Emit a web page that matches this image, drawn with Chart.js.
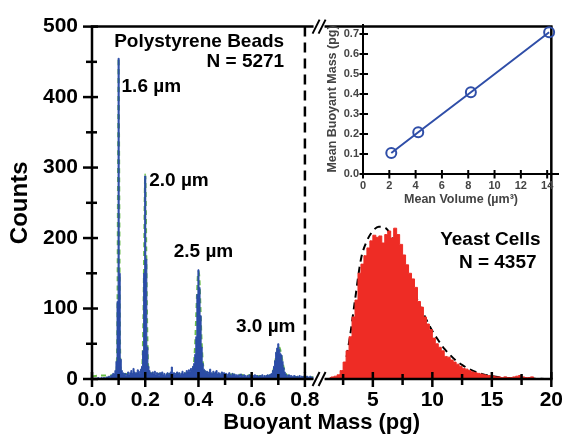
<!DOCTYPE html>
<html><head><meta charset="utf-8">
<script src="https://cdn.jsdelivr.net/npm/chart.js@4.4.1/dist/chart.umd.min.js"></script>
<style>
html,body{margin:0;padding:0;background:#fff;}
#wrap{position:relative;width:572px;height:439px;overflow:hidden;background:#fff;}
#main{position:absolute;left:0;top:0;}
#inset{position:absolute;left:300px;top:0;}
</style></head><body>
<div id="wrap"><canvas id="main" width="572" height="439"></canvas><canvas id="inset" width="272" height="215"></canvas></div>
<script>
const FONT = '"Liberation Sans", Arial, Helvetica, sans-serif';

// ---- Polystyrene beads: histogram (bin width 0.004 pg, first bin centred at 0) ----
const beadBinStart = 0;
const beadBinWidth = 0.004;
const beadCounts = [
  0,1,0,1,1,0,2,1,1,2,1,2,2,1,3,
  3,4,2,5,6,8,7,
  12,25,110,455,150,28,12,
  9,6,8,5,7,10,6,9,12,8,15,10,7,9,13,11,8,14,
  18,40,150,288,170,45,18,
  12,9,8,10,7,11,6,9,8,5, 9,7,10,6,8,5,7,9,6,8, 10,17,7,9,6,8,10,7,9,6, 8,11,7,9,8,12,10,13,
  11,15,14,18,22,35,60,120,155,130,90,45,22,14,
  12,9,11,8,10,14,9,7,11,8, 10,12,7,9,8,6,10,7,9,6, 8,5,7,9,6,5,8,6,7,5,6,
  5,6,4,7,5,4,6,5,3,5, 4,6,5,3,4,5,6,4,5,3, 4,5,4,6,3,5,4,5,6,
  5,6,7,8,12,18,26,38,44,50,42,36,34,25,16,10,7,
  5,4,6,3,5,4,3,5,4,3, 4,3,5,2,4,3,4,2,3,4, 3,2,4,3,2,3
];
// bead fit (green dashed)
const beadFitMass = [0,0.04,0.07,0.085, 0.091,0.094,0.096,0.098,0.100,0.102,0.104,0.106,0.109,
  0.115,0.15,0.18, 0.186,0.190,0.193,0.196,0.198,0.200,0.202,0.204,0.207,0.210,0.214,
  0.22,0.30,0.36, 0.375,0.382,0.387,0.391,0.395,0.398,0.401,0.404,0.407,0.411,0.416,0.423,
  0.44,0.55,0.65, 0.672,0.682,0.689,0.695,0.700,0.705,0.711,0.717,0.724,0.735, 0.76,0.83];
const beadFitCounts = [4,5,5,6, 10,35,120,310,455,310,120,35,10,
  7,7,8, 10,28,85,180,255,290,255,180,85,28,10,
  8,7,8, 10,20,45,85,125,148,152,140,108,62,26,11,
  8,6,4, 6,13,26,38,46,44,35,22,11,5, 3,3];

// ---- Yeast cells: histogram (bin width 0.25 pg, first bin centred at 1.375) ----
const yeastBinStart = 1.375;
const yeastBinWidth = 0.25;
const yeastCounts = [
  2,3,4,6,12,24,40,60,88,112,
  150,163,175,186,196,204,201,203,193,205,
  210,200,214,205,191,176,162,150,142,130,
  110,102,88,78,70,58,50,45,40,32,
  31,27,24,21,18,15,14,12,10,9,
  8,7,6,5,5,4,3,3,2,3,
  2,2,3,4,5,3,2,2,3,1
];
// yeast fit (black dashed)
const yeastFitMass = [2.0,2.5,3.0,3.5,4.0,4.5,5.0,5.5,6.0,6.5,7.0,7.5,8.0,8.5,9.0,9.5,10.0,10.5,11.0,11.5,12.0,12.5,13.0,14.0,15.0,16.0,17.0,18.0,20.0];
const yeastFitCounts = [2,10,52,112,170,196,210,216,215,205,186,165,143,122,102,84,68,55,43,34,26,20,15,8,4,2,1,0.5,0];

// ---- Inset: calibration ----
const insetVolume = [2.15, 4.2, 8.2, 14.15];
const insetMass = [0.105, 0.209, 0.409, 0.709];

// ---- tick labels ----
const countTickLabels = ['0','100','200','300','400','500'];
const beadMassTickLabels = ['0.0','0.2','0.4','0.6','0.8'];
const yeastMassTickLabels = ['5','10','15','20'];
const insetVolumeTickLabels = ['0','2','4','6','8','10','12','14'];
const insetMassTickLabels = ['0.0','0.1','0.2','0.3','0.4','0.5','0.6','0.7'];

const separatorMass = 0.8;
const xTitle = 'Buoyant Mass (pg)';
const annotations = [
  {text:'Polystyrene Beads', axis:'x1', x:0.722, y:471, align:'right'},
  {text:'N = 5271', axis:'x1', x:0.722, y:442, align:'right'},
  {text:'1.6 \u00b5m', axis:'x1', x:0.111, y:407, align:'left'},
  {text:'2.0 \u00b5m', axis:'x1', x:0.215, y:274, align:'left'},
  {text:'2.5 \u00b5m', axis:'x1', x:0.307, y:173, align:'left'},
  {text:'3.0 \u00b5m', axis:'x1', x:0.541, y:67, align:'left'},
  {text:'Yeast Cells', axis:'x2', x:19.09, y:190, align:'right'},
  {text:'N = 4357', axis:'x2', x:18.76, y:158, align:'right'}
];

const BLUE = '#2b4ca6', GREEN = '#6cbf4a', RED = '#ee2c25', IBLUE = '#2f4ea8';

const beadHist = beadCounts.map((c,i) => ({x: beadBinStart + i*beadBinWidth, y: c}));
const beadFit = beadFitMass.map((m,i) => ({x: m, y: beadFitCounts[i]}));
const yeastHist = yeastCounts.map((c,i) => ({x: yeastBinStart + i*yeastBinWidth, y: c}));
const yeastFit = yeastFitMass.map((m,i) => ({x: m, y: yeastFitCounts[i]}));

// x-axis ranges and their share of the width (broken axis)
const x1Range = [0, 0.855], x2Range = [0.52, 20];
const x1PxPerUnit = 270, x2PxPerUnit = 12.07;

const tickFont = {size:21, weight:'bold', family:FONT};
const noGrid = {display:false, drawTicks:false};

const mainDecor = {
  id:'mainDecor',
  afterDatasetsDraw(chart){
    const {ctx, chartArea:ca} = chart;
    const {x1, x2, y} = chart.scales;
    const seg = (a,b,c,d) => { ctx.beginPath(); ctx.moveTo(a,b); ctx.lineTo(c,d); ctx.stroke(); };
    ctx.save();
    ctx.strokeStyle = '#000';
    ctx.lineWidth = 2.5;
    // dashed separator
    const xs = x1.getPixelForValue(separatorMass);
    ctx.setLineDash([10,6]);
    seg(xs, ca.top, xs, ca.bottom);
    ctx.setLineDash([]);
    const br = x1.right;
    [ca.bottom, ca.top].forEach(yy => {
      ctx.lineWidth = 2.5;
      seg(ca.left - 1.25, yy, br - 6, yy);
      seg(br + 5, yy, ca.right + 1.25, yy);
      ctx.lineWidth = 2;
      seg(br - 7, yy + 7, br, yy - 7);
      seg(br - 1, yy + 7, br + 6, yy - 7);
    });
    ctx.lineWidth = 2.5;
    seg(ca.left, ca.top, ca.left, ca.bottom);
    seg(ca.right, ca.top, ca.right, ca.bottom);
    // ticks crossing the axes
    [x1, x2].forEach(sc => sc.ticks.forEach(t => {
      const px = sc.getPixelForValue(t.value);
      const major = t.label !== '';
      seg(px, ca.bottom - (major ? 7 : 5), px, ca.bottom + (major ? 8 : 6));
    }));
    y.ticks.forEach(t => {
      const py = y.getPixelForValue(t.value);
      const major = t.label !== '';
      seg(ca.left - (major ? 9 : 6), py, ca.left + (major ? 6 : 5), py);
    });
    // annotations
    ctx.fillStyle = '#000';
    ctx.textBaseline = 'alphabetic';
    annotations.forEach(a => {
      ctx.font = 'bold 19px ' + FONT;
      ctx.textAlign = a.align;
      ctx.fillText(a.text, chart.scales[a.axis].getPixelForValue(a.x), y.getPixelForValue(a.y));
    });
    ctx.font = 'bold 22px ' + FONT;
    ctx.textAlign = 'center';
    ctx.fillText(xTitle, (ca.left + ca.right) / 2, ca.bottom + 50);
    ctx.restore();
  }
};

new Chart(document.getElementById('main'), {
  type:'line',
  data:{datasets:[
    {data:beadHist, xAxisID:'x1', yAxisID:'y', stepped:'middle', fill:'origin', backgroundColor:BLUE, borderColor:BLUE, borderWidth:1, pointRadius:0},
    {data:beadFit, xAxisID:'x1', yAxisID:'y', borderColor:GREEN, borderWidth:2, borderDash:[5,4], pointRadius:0, cubicInterpolationMode:'monotone', fill:false},
    {data:yeastHist, xAxisID:'x2', yAxisID:'y', stepped:'middle', fill:'origin', backgroundColor:RED, borderColor:RED, borderWidth:1, pointRadius:0},
    {data:yeastFit, xAxisID:'x2', yAxisID:'y', borderColor:'#000', borderWidth:2, borderDash:[7,5], pointRadius:0, cubicInterpolationMode:'monotone', fill:false}
  ]},
  options:{
    responsive:false, animation:false, devicePixelRatio:1, events:[],
    layout:{padding:{top:24, right:14, bottom:20, left:0}},
    plugins:{legend:{display:false}, tooltip:{enabled:false}},
    scales:{
      x1:{type:'linear', axis:'x', position:'bottom', stack:'mass',
        stackWeight:(x1Range[1]-x1Range[0])*x1PxPerUnit,
        min:x1Range[0], max:x1Range[1], offset:false,
        grid:noGrid, border:{display:false},
        ticks:{stepSize:0.1, includeBounds:false, autoSkip:false, maxRotation:0, padding:9, color:'#000', font:tickFont,
          callback:v => { const s = Number(v).toFixed(1); return beadMassTickLabels.includes(s) ? s : ''; }},
        afterFit:s => { s.height = 40; }},
      x2:{type:'linear', axis:'x', position:'bottom', stack:'mass',
        stackWeight:(x2Range[1]-x2Range[0])*x2PxPerUnit,
        min:x2Range[0], max:x2Range[1], offset:false,
        grid:noGrid, border:{display:false},
        ticks:{stepSize:2.5, includeBounds:false, autoSkip:false, maxRotation:0, padding:9, color:'#000', font:tickFont,
          callback:v => { const s = String(v); return yeastMassTickLabels.includes(s) ? s : ''; }},
        afterFit:s => { s.height = 40; }},
      y:{type:'linear', position:'left', min:0, max:500,
        grid:noGrid, border:{display:false},
        ticks:{stepSize:50, includeBounds:false, autoSkip:false, padding:14, color:'#000', font:tickFont,
          callback:v => { const s = String(v); return countTickLabels.includes(s) ? s : ''; }},
        title:{display:true, text:'Counts', color:'#000', font:{size:24, weight:'bold', family:FONT}, padding:{top:6, bottom:0}},
        afterFit:s => { s.width = 92; }}
    }
  },
  plugins:[mainDecor]
});

const insetDecor = {
  id:'insetDecor',
  afterDatasetsDraw(chart){
    const {ctx, chartArea:ca} = chart;
    const {x, y} = chart.scales;
    const seg = (a,b,c,d) => { ctx.beginPath(); ctx.moveTo(a,b); ctx.lineTo(c,d); ctx.stroke(); };
    ctx.save();
    ctx.strokeStyle = '#000';
    ctx.lineWidth = 2;
    seg(ca.left, ca.top, ca.left, ca.bottom + 1);
    seg(ca.left - 1, ca.bottom, ca.right, ca.bottom);
    x.ticks.forEach(t => { const px = x.getPixelForValue(t.value); seg(px, ca.bottom - 4, px, ca.bottom + 4.5); });
    y.ticks.forEach(t => { const py = y.getPixelForValue(t.value); seg(ca.left - 3.5, py, ca.left + 5, py); });
    ctx.restore();
  }
};

const insetTickFont = {size:11, weight:'bold', family:FONT};
new Chart(document.getElementById('inset'), {
  type:'line',
  data:{datasets:[{data:insetVolume.map((v,i) => ({x:v, y:insetMass[i]})),
    borderColor:IBLUE, borderWidth:2, pointRadius:5, pointBorderWidth:2,
    pointBackgroundColor:'rgba(255,255,255,0)', pointBorderColor:IBLUE, tension:0, fill:false, clip:false}]},
  options:{
    responsive:false, animation:false, devicePixelRatio:1, events:[],
    layout:{padding:{top:24, right:13, bottom:0, left:0}},
    plugins:{legend:{display:false}, tooltip:{enabled:false}},
    scales:{
      x:{type:'linear', min:0, max:14.9, offset:false, grid:noGrid, border:{display:false},
        ticks:{stepSize:2, includeBounds:false, autoSkip:false, maxRotation:0, padding:5, color:'#444', font:insetTickFont,
          callback:v => { const s = String(v); return insetVolumeTickLabels.includes(s) ? s : ''; }},
        title:{display:true, text:'Mean Volume (\u00b5m\u00b3)', color:'#444', font:{size:12.5, weight:'bold', family:FONT}, padding:{top:0, bottom:8}},
        afterFit:s => { s.height = 41; }},
      y:{type:'linear', min:0, max:0.75, grid:noGrid, border:{display:false},
        ticks:{stepSize:0.1, includeBounds:false, autoSkip:false, padding:4, color:'#444', font:insetTickFont,
          callback:v => { const s = Number(v).toFixed(1); return insetMassTickLabels.includes(s) ? s : ''; }},
        title:{display:true, text:'Mean Buoyant Mass (pg)', color:'#444', font:{size:12.5, weight:'bold', family:FONT}, padding:{top:25, bottom:0}},
        afterFit:s => { s.width = 63; }}
    }
  },
  plugins:[insetDecor]
});
</script></body></html>
